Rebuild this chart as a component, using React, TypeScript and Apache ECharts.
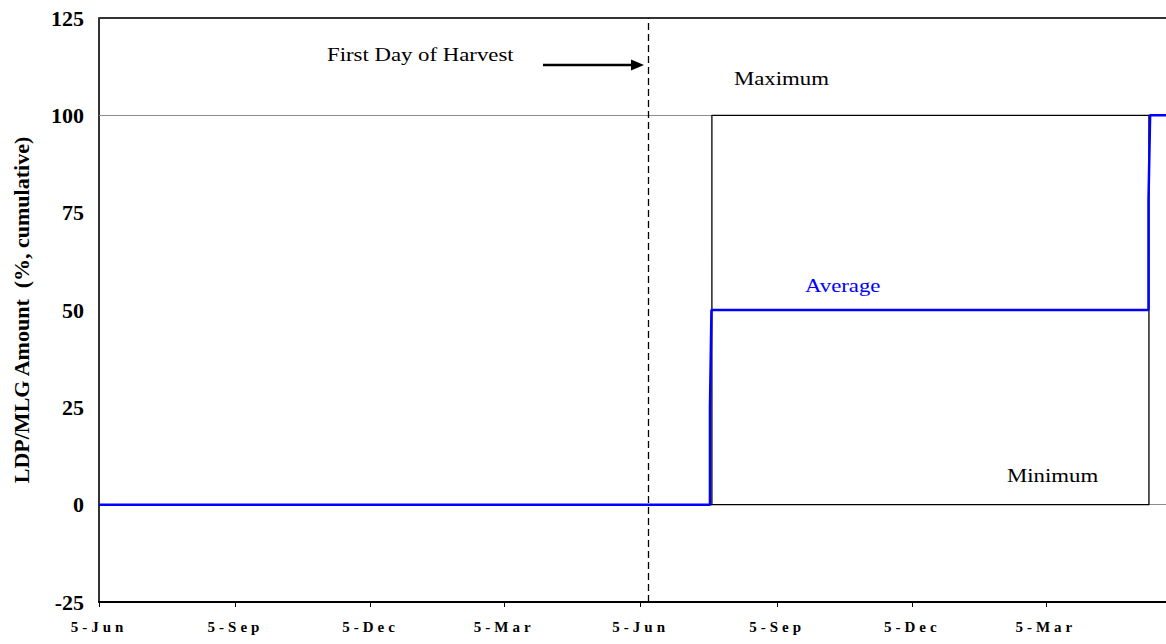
import React, { useEffect, useRef } from "react";
import * as echarts from "echarts";

// x values are days counted from the first 5-Jun on the axis
const tickDays = [0, 92, 183, 273, 365, 457, 548, 638];
const tickLabels = ["5-Jun", "5-Sep", "5-Dec", "5-Mar", "5-Jun", "5-Sep", "5-Dec", "5-Mar"];
const axisMaxDay = 719;

const maximumDays = [0, 413.0, 413.0, 719];
const maximumValues = [0, 0, 100, 100];

const minimumDays = [0, 707.5, 707.5, 719];
const minimumValues = [0, 0, 100, 100];

const averageDays = [0, 411.7, 411.7, 412.7, 707.2, 707.2, 708.3, 719];
const averageValues = [0, 0, 25, 50, 50, 78, 100, 100];

const harvestDay = 370;
const referenceLevels = [0, 100];

const SERIF = '"Times New Roman", "Liberation Serif", serif';

const zip = (xs: number[], ys: number[]) => xs.map((x, i) => [x, ys[i]]);

export default function App() {
  const ref = useRef<HTMLDivElement>(null);

  useEffect(() => {
    if (!ref.current) return;
    document.body.style.margin = "0";
    const chart = echarts.init(ref.current, null, { renderer: "svg" });

    const annot = (text: string, x: number, y: number, fill = "#000") => ({
      type: "text",
      x,
      y,
      scaleX: 1.2,
      silent: true,
      style: {
        text,
        fill,
        fontFamily: SERIF,
        fontSize: 19,
        align: "left",
        verticalAlign: "middle",
      },
    });

    chart.setOption({
      animation: false,
      backgroundColor: "#ffffff",
      grid: { left: 99, right: 0, top: 18, bottom: 42, containLabel: false },
      xAxis: {
        type: "value",
        min: 0,
        max: axisMaxDay,
        axisLine: { show: true, onZero: false, lineStyle: { color: "#000", width: 2 } },
        axisTick: {
          show: true,
          length: 5,
          customValues: tickDays,
          lineStyle: { color: "#000", width: 1 },
        },
        axisLabel: {
          customValues: tickDays,
          formatter: (v: number) => {
            const i = tickDays.indexOf(v);
            return i >= 0 ? tickLabels[i] : "";
          },
          color: "#000",
          fontFamily: SERIF,
          fontWeight: "bold",
          fontSize: 15,
          margin: 17,
        },
        splitLine: { show: false },
      },
      yAxis: {
        type: "value",
        min: -25,
        max: 125,
        interval: 25,
        name: "LDP/MLG Amount  (%, cumulative)",
        nameLocation: "middle",
        nameGap: 67,
        nameTextStyle: {
          color: "#000",
          fontFamily: SERIF,
          fontWeight: "bold",
          fontSize: 22,
        },
        axisLine: { show: true, lineStyle: { color: "#333", width: 2 } },
        axisTick: { show: false },
        axisLabel: {
          color: "#000",
          fontFamily: SERIF,
          fontWeight: "bold",
          fontSize: 22,
          margin: 15,
        },
        splitLine: { show: false },
      },
      series: [
        {
          name: "frame",
          type: "line",
          data: [],
          silent: true,
          z: 1,
          markLine: {
            silent: true,
            symbol: ["none", "none"],
            label: { show: false },
            emphasis: { disabled: true },
            data: [
              ...referenceLevels.map((v) => ({
                yAxis: v,
                lineStyle: { color: "#8c8c8c", width: 1, type: "solid" },
              })),
              { yAxis: 125, lineStyle: { color: "#333", width: 2, type: "solid" } },
              { xAxis: harvestDay, lineStyle: { color: "#000", width: 1.3, type: [7, 4] } },
            ],
          },
        },
        {
          name: "Maximum",
          type: "line",
          data: zip(maximumDays, maximumValues),
          showSymbol: false,
          symbol: "none",
          silent: true,
          z: 10,
          lineStyle: { color: "#000", width: 1.3 },
        },
        {
          name: "Minimum",
          type: "line",
          data: zip(minimumDays, minimumValues),
          showSymbol: false,
          symbol: "none",
          silent: true,
          z: 10,
          lineStyle: { color: "#000", width: 1.3 },
        },
        {
          name: "Average",
          type: "line",
          data: zip(averageDays, averageValues),
          showSymbol: false,
          symbol: "none",
          silent: true,
          z: 12,
          lineStyle: { color: "#0000ff", width: 2.5 },
        },
      ],
      graphic: [
        annot("First Day of Harvest", 327, 55),
        annot("Maximum", 734, 79),
        annot("Average", 805, 286, "#0000ff"),
        annot("Minimum", 1007, 476),
        {
          type: "line",
          silent: true,
          shape: { x1: 543, y1: 65, x2: 634, y2: 65 },
          style: { stroke: "#000", lineWidth: 2.5 },
        },
        {
          type: "polygon",
          silent: true,
          shape: { points: [[631, 59.5], [644, 65], [631, 70.5]] },
          style: { fill: "#000" },
        },
      ],
    });

    const svg = ref.current.querySelector("svg");
    if (svg) {
      svg.querySelectorAll("text").forEach((t) => {
        if (tickLabels.includes(t.textContent || "")) {
          (t as SVGTextElement).style.letterSpacing = "4px";
        }
      });
    }

    return () => chart.dispose();
  }, []);

  return (
    <div
      ref={ref}
      style={{ position: "fixed", left: 0, top: 0, width: 1166, height: 644 }}
    />
  );
}
